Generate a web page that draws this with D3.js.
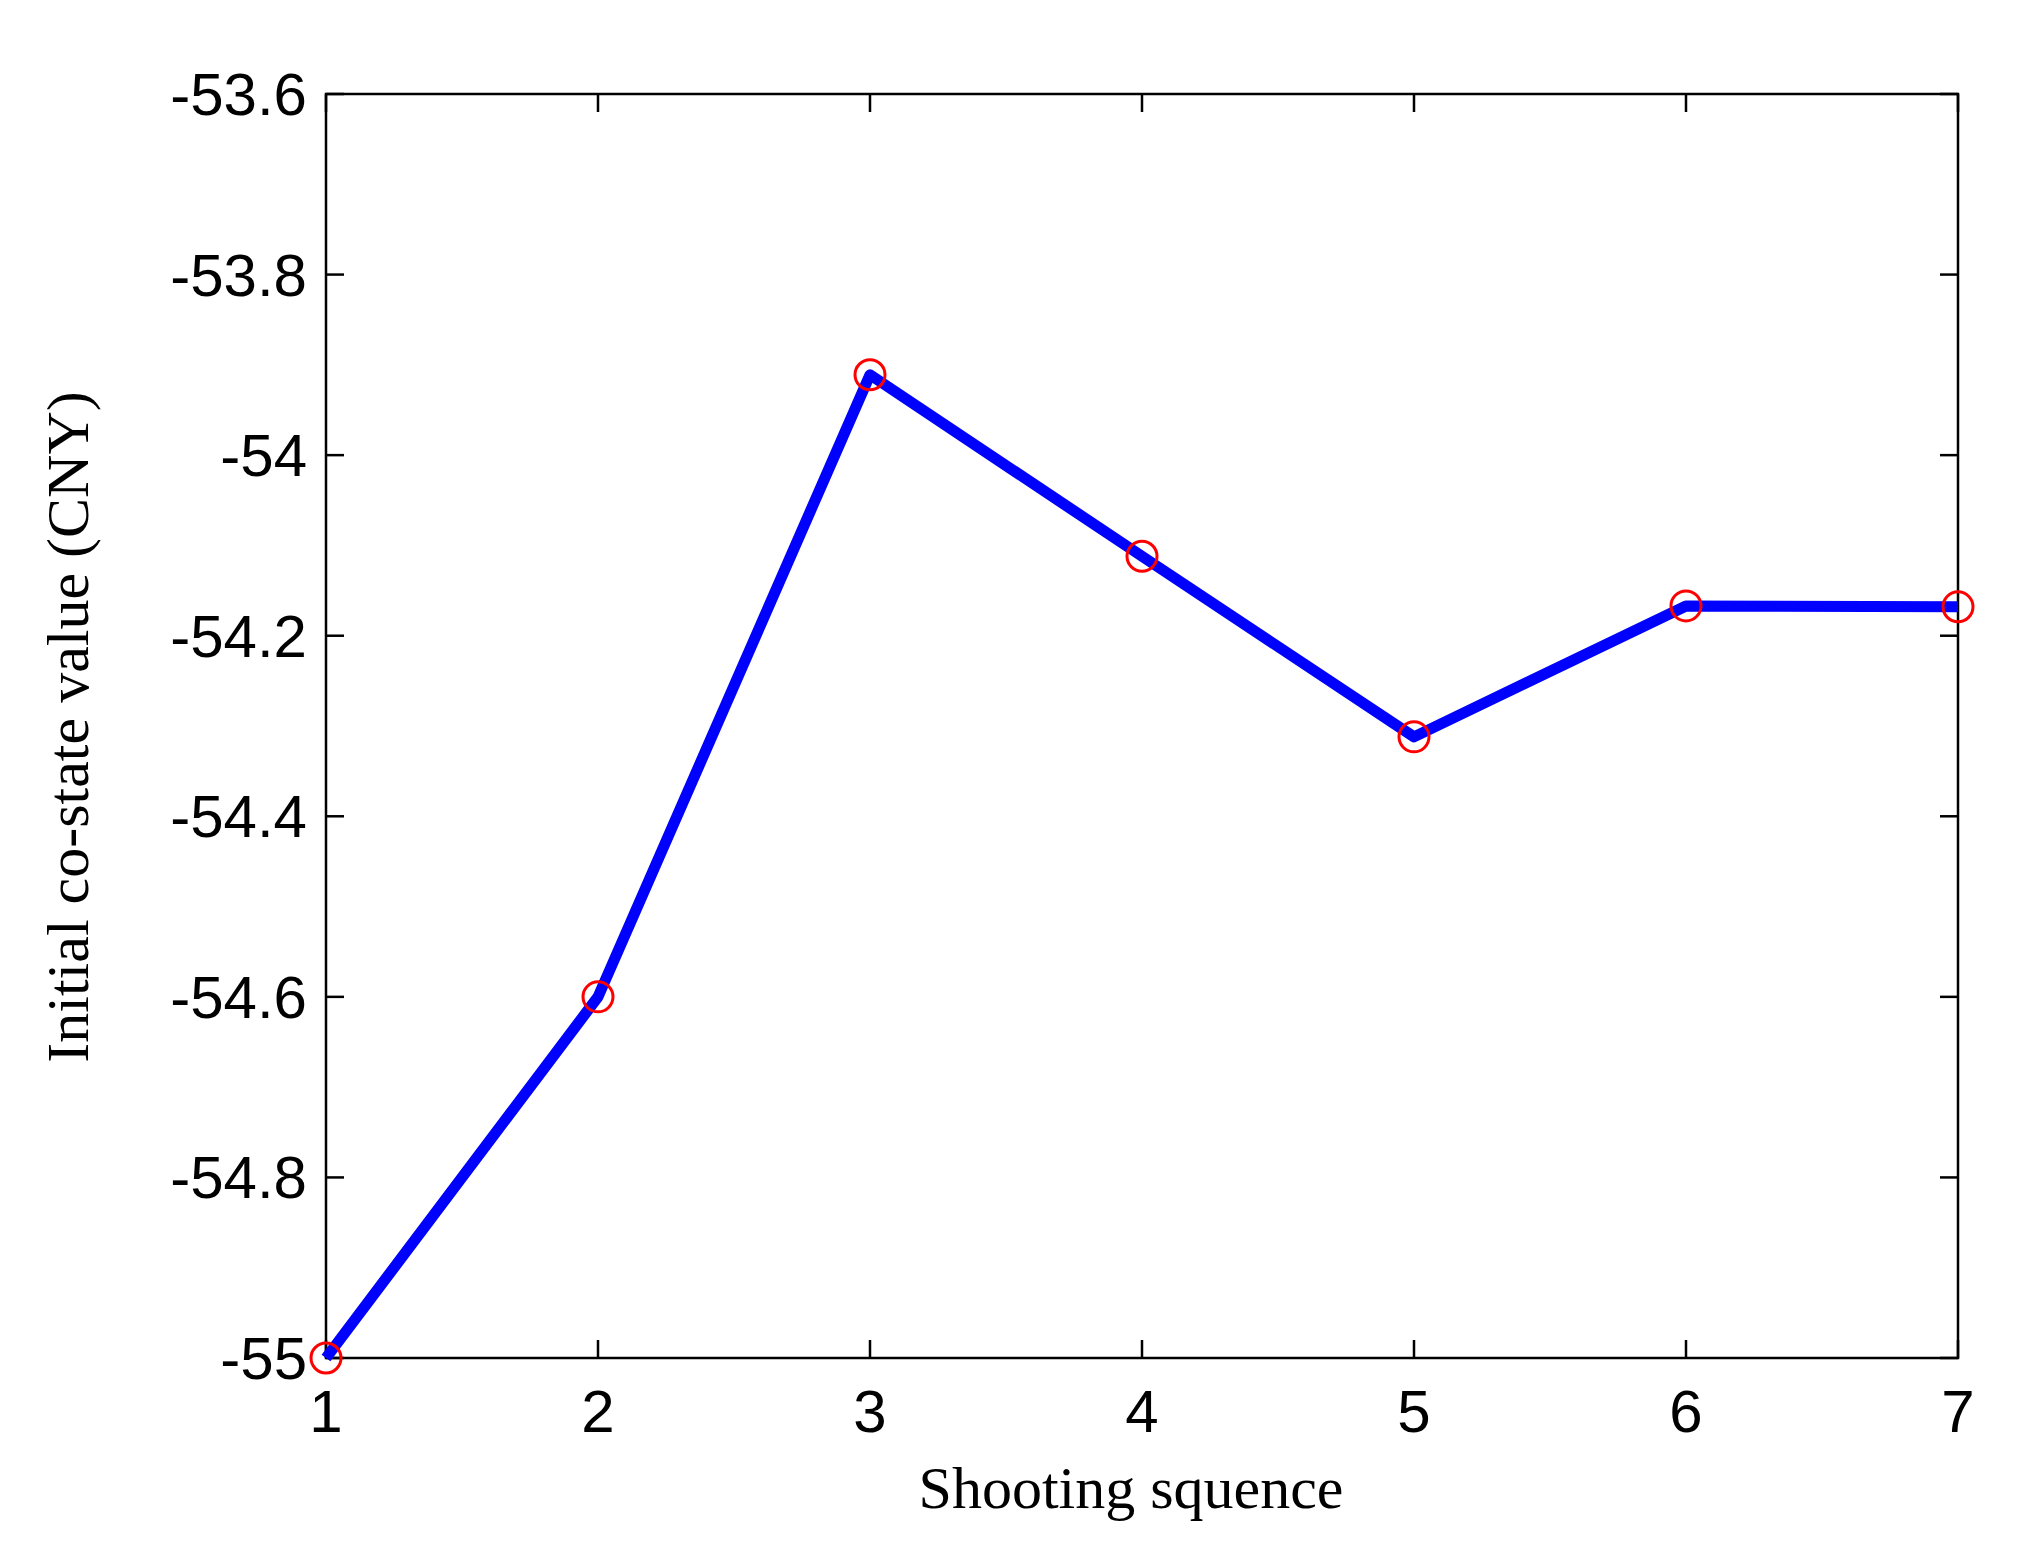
<!DOCTYPE html><html><head><meta charset="utf-8"><script src="https://cdn.jsdelivr.net/npm/d3@7"></script>
<style>body{margin:0;background:#fff}</style></head><body><script>
const xs=[1,2,3,4,5,6,7];
const ys=[-55,-54.6,-53.911,-54.112,-54.312,-54.167,-54.168];
const yTicks=[-55,-54.8,-54.6,-54.4,-54.2,-54,-53.8,-53.6];
const svg=d3.select("body").append("svg").attr("width",2024).attr("height",1555);
const L=326,R=1958,T=94,B=1358;
const x=d3.scaleLinear().domain([1,7]).range([L,R]);
const y=d3.scaleLinear().domain([-55,-53.6]).range([B,T]);
const g=svg.append("g");
const tl=18;
xs.forEach(v=>{g.append("line").attr("x1",x(v)).attr("x2",x(v)).attr("y1",B).attr("y2",B-tl).attr("stroke","#000").attr("stroke-width",2.5);
g.append("line").attr("x1",x(v)).attr("x2",x(v)).attr("y1",T).attr("y2",T+tl).attr("stroke","#000").attr("stroke-width",2.5);
g.append("text").attr("x",x(v)).attr("y",1432).attr("text-anchor","middle").attr("font-family","Liberation Sans, Arial").attr("font-size",60).text(v);});
yTicks.forEach(v=>{g.append("line").attr("x1",L).attr("x2",L+tl).attr("y1",y(v)).attr("y2",y(v)).attr("stroke","#000").attr("stroke-width",2.5);
g.append("line").attr("x1",R).attr("x2",R-tl).attr("y1",y(v)).attr("y2",y(v)).attr("stroke","#000").attr("stroke-width",2.5);
g.append("text").attr("x",307).attr("y",y(v)+21).attr("text-anchor","end").attr("font-family","Liberation Sans, Arial").attr("font-size",60).text(String(v));});
g.append("rect").attr("x",L).attr("y",T).attr("width",R-L).attr("height",B-T).attr("fill","none").attr("stroke","#000").attr("stroke-width",2.5);
const pts=xs.map((v,i)=>[v,ys[i]]);
g.append("path").attr("d",d3.line().x(d=>x(d[0])).y(d=>y(d[1]))(pts)).attr("fill","none").attr("stroke","#0000ff").attr("stroke-width",11).attr("stroke-linejoin","round");
g.selectAll("circle").data(pts).join("circle").attr("cx",d=>x(d[0])).attr("cy",d=>y(d[1])).attr("r",15).attr("fill","none").attr("stroke","#ff0000").attr("stroke-width",3);
g.append("text").attr("x",1131).attr("y",1508).attr("text-anchor","middle").attr("font-family","Liberation Serif, Times New Roman").attr("font-size",60).text("Shooting squence");
g.append("text").attr("transform","translate(88,727) rotate(-90)").attr("text-anchor","middle").attr("font-family","Liberation Serif, Times New Roman").attr("font-size",60).text("Initial co-state value (CNY)");
</script></body></html>
